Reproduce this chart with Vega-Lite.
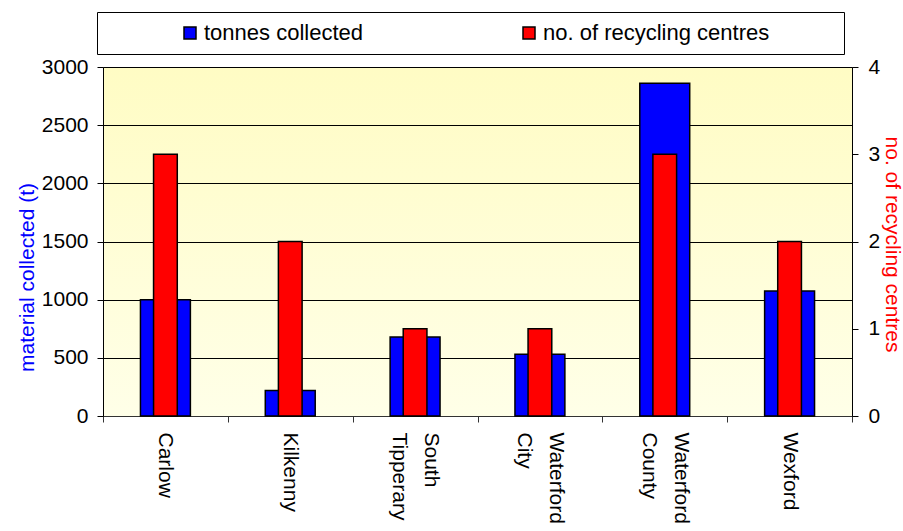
{
  "$schema": "https://vega.github.io/schema/vega-lite/v6.json",
  "width": 749,
  "height": 349,
  "autosize": {"type": "none"},
  "padding": {"left": 103, "top": 67, "right": 51, "bottom": 115},
  "background": "white",
  "data": {
    "values": [
      {"county": "Carlow", "tonnes": 1000, "centres": 3},
      {"county": "Kilkenny", "tonnes": 220, "centres": 2},
      {"county": "South Tipperary", "tonnes": 680, "centres": 1},
      {"county": "Waterford City", "tonnes": 530, "centres": 1},
      {"county": "Waterford County", "tonnes": 2860, "centres": 3},
      {"county": "Wexford", "tonnes": 1075, "centres": 2}
    ]
  },
  "config": {
    "font": "Liberation Sans",
    "view": {
      "stroke": "#808080",
      "strokeWidth": 1,
      "fill": {
        "gradient": "linear",
        "x1": 0, "y1": 0, "x2": 0, "y2": 1,
        "stops": [
          {"offset": 0, "color": "#FFFCC4"},
          {"offset": 1, "color": "#FFFFE8"}
        ]
      }
    },
    "axis": {
      "labelFont": "Liberation Sans",
      "titleFont": "Liberation Sans",
      "labelColor": "#000000",
      "labelFontSize": 21,
      "titleFontSize": 21,
      "titleFontWeight": "normal",
      "tickSize": 6,
      "tickColor": "#000000",
      "domainColor": "#000000"
    },
    "legend": {
      "labelFont": "Liberation Sans",
      "titleFont": "Liberation Sans"
    }
  },
  "encoding": {
    "x": {
      "field": "county",
      "type": "nominal",
      "sort": null,
      "scale": {"paddingInner": 0, "paddingOuter": 0},
      "axis": {
        "title": null,
        "tickBand": "extent",
        "labelAngle": 90,
        "labelPadding": 10,
        "labelLineHeight": 16,
        "labelOffset": 15.5,
        "labelExpr": "length(split(datum.label, ' ')) > 1 ? [split(datum.label, ' ')[0], '\u2800', split(datum.label, ' ')[1]] : ['', datum.label]",
        "domainColor": "#333333",
        "tickColor": "#333333",
        "grid": false
      }
    }
  },
  "layer": [
    {
      "mark": {"type": "bar", "width": {"band": 0.4}, "stroke": "#000000", "strokeWidth": 1.5},
      "encoding": {
        "y": {
          "field": "tonnes",
          "type": "quantitative",
          "scale": {"domain": [0, 3000], "nice": false},
          "axis": {
            "orient": "left",
            "values": [0, 500, 1000, 1500, 2000, 2500, 3000],
            "format": "d",
            "grid": true,
            "gridColor": "#000000",
            "gridWidth": 1,
            "labelPadding": 9,
            "title": "material collected (t)",
            "titleColor": "#0000FF",
            "titleAngle": -90,
            "titleX": -76,
            "titleY": 210,
            "titleAlign": "center",
            "titleBaseline": "middle"
          }
        },
        "color": {
          "datum": "tonnes collected",
          "type": "nominal",
          "scale": {
            "domain": ["tonnes collected", "no. of recycling centres"],
            "range": ["#0000FF", "#FF0000"]
          },
          "legend": {
            "orient": "none",
            "legendX": -6,
            "legendY": -55,
            "direction": "horizontal",
            "columns": 2,
            "gridAlign": "all",
            "columnPadding": 23,
            "padding": 10,
            "strokeColor": "#000000",
            "fillColor": "#FFFFFF",
            "title": " ",
            "titleOrient": "left",
            "titleFontSize": 1,
            "titlePadding": 72,
            "symbolType": "square",
            "symbolSize": 144,
            "symbolStrokeColor": "#000000",
            "symbolStrokeWidth": 1.5,
            "symbolOpacity": 1,
            "labelFontSize": 22,
            "labelColor": "#000000",
            "labelOffset": 3,
            "labelLimit": 500,
            "labelExpr": "datum.label == 'no. of recycling centres' ? datum.label + '\u2800\u2800\u2800\u2800' : datum.label"
          }
        }
      }
    },
    {
      "mark": {"type": "bar", "width": {"band": 0.19}, "stroke": "#000000", "strokeWidth": 1.5},
      "encoding": {
        "y": {
          "field": "centres",
          "type": "quantitative",
          "scale": {"domain": [0, 4], "nice": false},
          "axis": {
            "orient": "right",
            "values": [0, 1, 2, 3, 4],
            "grid": false,
            "labelPadding": 10,
            "title": "no. of recycling centres",
            "titleColor": "#FF0000",
            "titleAngle": 90,
            "titleX": 39,
            "titleY": 177,
            "titleAlign": "center",
            "titleBaseline": "middle"
          }
        },
        "color": {"datum": "no. of recycling centres", "type": "nominal"}
      }
    }
  ],
  "resolve": {"scale": {"y": "independent"}}
}
